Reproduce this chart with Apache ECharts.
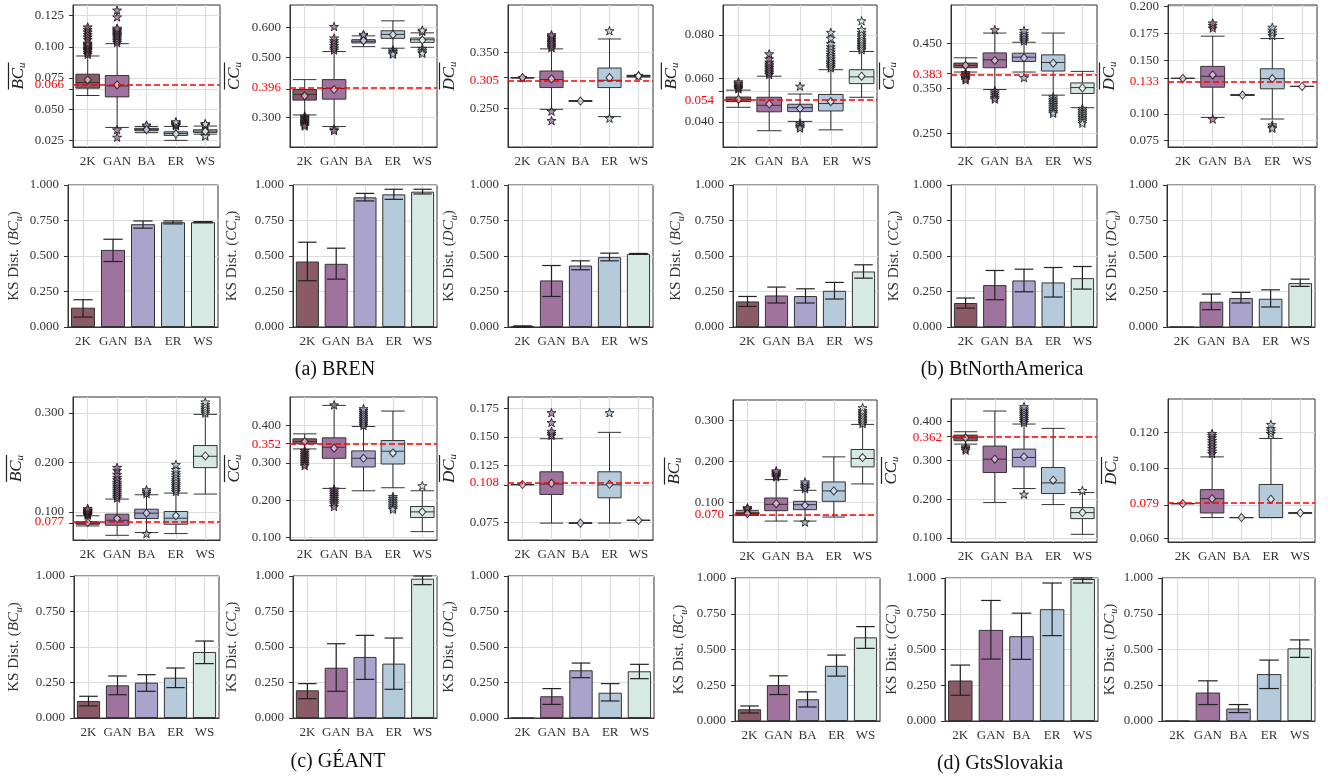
<!DOCTYPE html>
<html lang="en">
<head>
<meta charset="UTF-8">
<title>Centrality distributions and KS distance</title>
<script src="https://cdn.jsdelivr.net/npm/echarts@6/dist/echarts.min.js"></script>
<style>html,body{margin:0;background:#fff}</style>
</head>
<body>
<div id="main" style="width:1328px;height:779px"></div>
<script>
var cats = ['2K', 'GAN', 'BA', 'ER', 'WS'];
var fills = ['#8b5a67', '#a0739e', '#aaa3cb', '#b5cadb', '#d7e9e3'];
var meanFills = ['#e3bccb', '#e6c8e6', '#dcd8f4', '#e2edf5', '#ffffff'];

// ---- (a) BREN ----
var brenBcBox = [[0.061, 0.0669, 0.0714, 0.0781, 0.0927], [0.0354, 0.0599, 0.0687, 0.077, 0.1026], [0.0312, 0.0327, 0.0336, 0.0347, 0.0362], [0.025, 0.029, 0.0306, 0.0319, 0.0362], [0.030, 0.0314, 0.0325, 0.0335, 0.0365]];
var brenBcMean = [0.0735, 0.0695, 0.0336, 0.0303, 0.0322];
var brenBcOut = [[0.094, 0.0955, 0.097, 0.098, 0.099, 0.1, 0.101, 0.102, 0.103, 0.106, 0.108, 0.11, 0.112, 0.114, 0.116],
  [0.1035, 0.105, 0.1065, 0.108, 0.109, 0.11, 0.111, 0.112, 0.113, 0.114, 0.115, 0.124, 0.1295, 0.0335, 0.0275],
  [0.0368, 0.0373], [0.0368, 0.0375, 0.038, 0.0386, 0.0393, 0.04], [0.0372, 0.0378, 0.0385, 0.0292, 0.0285]];
var brenBcRef = 0.066;
var brenBcRange = [0.0197, 0.1336];
var brenBcTicks = [0.025, 0.05, 0.075, 0.1, 0.125];

var brenCcBox = [[0.3088, 0.3582, 0.377, 0.3934, 0.4264], [0.2703, 0.3615, 0.3967, 0.4264, 0.5198], [0.536, 0.5484, 0.554, 0.5593, 0.572], [0.531, 0.5637, 0.577, 0.589, 0.622], [0.534, 0.5505, 0.559, 0.5648, 0.582]];
var brenCcMean = [0.3725, 0.3934, 0.556, 0.5758, 0.558];
var brenCcOut = [[0.305, 0.3, 0.296, 0.292, 0.288, 0.284, 0.28, 0.276, 0.272],
  [0.525, 0.532, 0.54, 0.548, 0.556, 0.565, 0.603, 0.262, 0.257],
  [0.574, 0.577], [0.525, 0.52, 0.515, 0.511], [0.587, 0.591, 0.53, 0.524, 0.518, 0.514]];
var brenCcRef = 0.396;
var brenCcRange = [0.2022, 0.6747];
var brenCcTicks = [0.3, 0.5, 0.6];

var brenDcBox = [[0.3045, 0.3045, 0.3045, 0.3045, 0.3045], [0.2482, 0.287, 0.3012, 0.3165, 0.3559], [0.2625, 0.2625, 0.263, 0.2635, 0.2635], [0.2353, 0.287, 0.3, 0.3218, 0.3735], [0.3059, 0.3065, 0.3075, 0.3085, 0.3088]];
var brenDcMean = [0.3045, 0.3024, 0.263, 0.3047, 0.3076];
var brenDcOut = [[0.3045], [0.358, 0.361, 0.364, 0.367, 0.37, 0.373, 0.376, 0.379, 0.381, 0.245, 0.2282], [], [0.3882, 0.2324], [0.3085]];
var brenDcRef = 0.305;
var brenDcRange = [0.1812, 0.434];
var brenDcTicks = [0.25, 0.35];

var brenBcKs = [0.136, 0.543, 0.724, 0.738, 0.738];
var brenBcKsLo = [0.070, 0.461, 0.696, 0.726, 0.734];
var brenBcKsHi = [0.192, 0.618, 0.747, 0.747, 0.742];
var brenCcKs = [0.461, 0.445, 0.913, 0.934, 0.953];
var brenCcKsLo = [0.326, 0.337, 0.888, 0.899, 0.937];
var brenCcKsHi = [0.597, 0.555, 0.941, 0.970, 0.970];
var brenDcKs = [0.003, 0.328, 0.433, 0.492, 0.515];
var brenDcKsLo = [0.0, 0.215, 0.403, 0.466, 0.512];
var brenDcKsHi = [0.008, 0.433, 0.466, 0.520, 0.518];

// ---- (b) BtNorthAmerica ----
var btnaBcBox = [[0.0467, 0.0493, 0.0503, 0.0514, 0.0546], [0.0359, 0.0446, 0.0476, 0.0513, 0.061], [0.0402, 0.0447, 0.0465, 0.0481, 0.0528], [0.0363, 0.045, 0.0484, 0.0526, 0.064], [0.0513, 0.0576, 0.0607, 0.064, 0.0724]];
var btnaBcMean = [0.0503, 0.0482, 0.0462, 0.0493, 0.061];
var btnaBcOut = [[0.0552, 0.0558, 0.0564, 0.057, 0.0576, 0.0584],
  [0.0618, 0.0626, 0.0634, 0.0642, 0.065, 0.0658, 0.0666, 0.0675, 0.069, 0.0713],
  [0.0564, 0.0394, 0.0385, 0.0378, 0.0371],
  [0.0648, 0.0656, 0.0664, 0.0672, 0.068, 0.069, 0.07, 0.071, 0.0722, 0.0734, 0.0746, 0.076, 0.0785, 0.0812],
  [0.0732, 0.074, 0.0748, 0.0756, 0.0764, 0.0772, 0.078, 0.079, 0.08, 0.0812, 0.0825, 0.0865]];
var btnaBcRef = 0.054;
var btnaBcRange = [0.0284, 0.0938];
var btnaBcTicks = [0.04, 0.06, 0.08];

var btnaCcBox = [[0.3865, 0.3961, 0.4013, 0.4065, 0.4183], [0.3474, 0.3961, 0.4138, 0.4293, 0.4736], [0.3865, 0.4101, 0.4197, 0.4286, 0.453], [0.3349, 0.3887, 0.4079, 0.4249, 0.4736], [0.3068, 0.3386, 0.3518, 0.3622, 0.388]];
var btnaCcMean = [0.4013, 0.4124, 0.4183, 0.4064, 0.351];
var btnaCcOut = [[0.385, 0.381, 0.378, 0.375, 0.372, 0.369],
  [0.481, 0.345, 0.34, 0.335, 0.33, 0.326],
  [0.456, 0.46, 0.464, 0.468, 0.473, 0.479, 0.374],
  [0.331, 0.326, 0.322, 0.318, 0.314, 0.31, 0.306, 0.302, 0.298, 0.2943],
  [0.3053, 0.301, 0.297, 0.293, 0.289, 0.285, 0.281, 0.277, 0.2721]];
var btnaCcRef = 0.383;
var btnaCcRange = [0.219, 0.5363];
var btnaCcTicks = [0.25, 0.35, 0.45];

var btnaDcBox = [[0.133, 0.133, 0.133, 0.133, 0.133], [0.0966, 0.1248, 0.135, 0.1442, 0.1724], [0.1175, 0.1175, 0.1175, 0.1175, 0.1175], [0.0951, 0.1233, 0.1328, 0.142, 0.1702], [0.1255, 0.1255, 0.1255, 0.1255, 0.1255]];
var btnaDcMean = [0.133, 0.1362, 0.1175, 0.1328, 0.1255];
var btnaDcOut = [[], [0.18, 0.1825, 0.1847, 0.0951], [], [0.173, 0.1755, 0.178, 0.1807, 0.0896, 0.0875, 0.0865], []];
var btnaDcRef = 0.133;
var btnaDcRange = [0.069, 0.2015];
var btnaDcTicks = [0.075, 0.1, 0.15, 0.175, 0.2];

var btnaBcKs = [0.180, 0.222, 0.218, 0.255, 0.391];
var btnaBcKsLo = [0.145, 0.169, 0.169, 0.197, 0.344];
var btnaBcKsHi = [0.215, 0.281, 0.269, 0.314, 0.438];
var btnaCcKs = [0.169, 0.295, 0.328, 0.314, 0.344];
var btnaCcKsLo = [0.133, 0.192, 0.248, 0.211, 0.267];
var btnaCcKsHi = [0.204, 0.398, 0.407, 0.419, 0.426];
var btnaDcKs = [0.0, 0.178, 0.204, 0.199, 0.309];
var btnaDcKsLo = [0.0, 0.122, 0.169, 0.141, 0.286];
var btnaDcKsHi = [0.0, 0.232, 0.244, 0.262, 0.337];

// ---- (c) GEANT ----
var geantBcBox = [[0.0715, 0.0749, 0.0772, 0.0797, 0.092], [0.0525, 0.0729, 0.083, 0.0953, 0.1258], [0.058, 0.0864, 0.0973, 0.1054, 0.1346], [0.056, 0.0749, 0.0871, 0.1007, 0.138], [0.136, 0.1895, 0.2125, 0.2342, 0.2973]];
var geantBcMean = [0.0783, 0.0864, 0.0973, 0.0919, 0.2132];
var geantBcOut = [[0.0935, 0.095, 0.0965, 0.098, 0.0995, 0.101, 0.1025, 0.104, 0.1068],
  [0.128, 0.132, 0.136, 0.14, 0.144, 0.148, 0.152, 0.156, 0.16, 0.165, 0.17, 0.176, 0.184, 0.19],
  [0.137, 0.141, 0.1447, 0.056],
  [0.141, 0.145, 0.149, 0.153, 0.157, 0.161, 0.165, 0.17, 0.175, 0.18, 0.186, 0.1956],
  [0.3, 0.304, 0.308, 0.312, 0.317, 0.3224]];
var geantBcRef = 0.077;
var geantBcRange = [0.043, 0.3325];
var geantBcTicks = [0.1, 0.2, 0.3];

var geantCcBox = [[0.3373, 0.3508, 0.357, 0.3642, 0.3776], [0.2317, 0.3123, 0.3418, 0.3669, 0.4537], [0.2254, 0.289, 0.3123, 0.332, 0.3973], [0.2335, 0.297, 0.3311, 0.3597, 0.4385], [0.1162, 0.1538, 0.169, 0.1833, 0.2254]];
var geantCcMean = [0.357, 0.3391, 0.3123, 0.3266, 0.169];
var geantCcOut = [[0.333, 0.328, 0.323, 0.318, 0.313, 0.308, 0.303, 0.298, 0.2926],
  [0.455, 0.23, 0.225, 0.22, 0.215, 0.21, 0.205, 0.2, 0.195, 0.19, 0.1833],
  [0.4, 0.405, 0.41, 0.415, 0.42, 0.425, 0.43, 0.435, 0.44, 0.4448],
  [0.21, 0.205, 0.2, 0.195, 0.19, 0.185, 0.18, 0.176],
  [0.2389]];
var geantCcRef = 0.352;
var geantCcRange = [0.0938, 0.4761];
var geantCcTicks = [0.1, 0.2, 0.3, 0.4];

var geantDcBox = [[0.1082, 0.1082, 0.1082, 0.1082, 0.1082], [0.0744, 0.0996, 0.1087, 0.1194, 0.1484], [0.0744, 0.0744, 0.0744, 0.0744, 0.0744], [0.0744, 0.0966, 0.108, 0.1194, 0.154], [0.0768, 0.0768, 0.0768, 0.0768, 0.0768]];
var geantDcMean = [0.1082, 0.1093, 0.0744, 0.1084, 0.0768];
var geantDcOut = [[], [0.1513, 0.153, 0.1549, 0.1626, 0.1712], [], [0.1712], []];
var geantDcRef = 0.108;
var geantDcRange = [0.0596, 0.185];
var geantDcTicks = [0.075, 0.125, 0.15, 0.175];

var geantBcKs = [0.120, 0.230, 0.249, 0.284, 0.465];
var geantBcKsLo = [0.085, 0.164, 0.188, 0.214, 0.383];
var geantBcKsHi = [0.153, 0.296, 0.305, 0.352, 0.542];
var geantCcKs = [0.195, 0.354, 0.430, 0.383, 0.981];
var geantCcKsLo = [0.136, 0.188, 0.272, 0.202, 0.939];
var geantCcKsHi = [0.242, 0.523, 0.582, 0.563, 1.0];
var geantDcKs = [0.0, 0.153, 0.336, 0.178, 0.329];
var geantDcKsLo = [0.0, 0.096, 0.284, 0.120, 0.277];
var geantDcKsHi = [0.0, 0.207, 0.387, 0.242, 0.378];

// ---- (d) GtsSlovakia ----
var gtsBcBox = [[0.069, 0.0706, 0.0735, 0.0771, 0.0812], [0.0551, 0.0804, 0.0959, 0.1114, 0.1563], [0.0551, 0.0829, 0.0951, 0.1033, 0.1302], [0.0649, 0.1033, 0.1286, 0.1506, 0.2118], [0.1457, 0.1873, 0.2078, 0.2298, 0.291]];
var gtsBcMean = [0.073, 0.0976, 0.0935, 0.1286, 0.2102];
var gtsBcOut = [[0.083, 0.0855, 0.0878],
  [0.1629, 0.166, 0.169, 0.172, 0.1745, 0.1776],
  [0.1343, 0.138, 0.142, 0.146, 0.1506, 0.0527],
  [],
  [0.293, 0.297, 0.301, 0.305, 0.309, 0.313, 0.317, 0.321, 0.325, 0.3318]];
var gtsBcRef = 0.070;
var gtsBcRange = [0.004, 0.3506];
var gtsBcTicks = [0.1, 0.2, 0.3];

var gtsCcBox = [[0.3422, 0.3509, 0.3586, 0.3655, 0.3741], [0.1914, 0.269, 0.3034, 0.3371, 0.4276], [0.2276, 0.2836, 0.3078, 0.3293, 0.394], [0.1862, 0.2147, 0.2422, 0.2819, 0.3828], [0.1095, 0.15, 0.1655, 0.1784, 0.2172]];
var gtsCcMean = [0.3586, 0.3034, 0.3095, 0.2491, 0.1655];
var gtsCcOut = [[0.3353, 0.331, 0.3267], [],
  [0.398, 0.403, 0.408, 0.413, 0.418, 0.423, 0.428, 0.433, 0.4388, 0.2129], [], [0.2224]];
var gtsCcRef = 0.362;
var gtsCcRange = [0.0897, 0.4586];
var gtsCcTicks = [0.1, 0.2, 0.3, 0.4];

var gtsDcBox = [[0.0798, 0.0798, 0.0798, 0.0798, 0.0798], [0.0719, 0.0745, 0.0826, 0.0877, 0.1062], [0.0719, 0.0719, 0.0719, 0.0719, 0.0719], [0.0719, 0.0719, 0.0719, 0.0906, 0.1166], [0.0745, 0.0745, 0.0745, 0.0745, 0.0745]];
var gtsDcMean = [0.0798, 0.0826, 0.0719, 0.0823, 0.0745];
var gtsDcOut = [[], [0.1081, 0.1095, 0.111, 0.1125, 0.114, 0.1155, 0.117, 0.1183, 0.1194], [], [0.1194, 0.1208, 0.1222, 0.1245], []];
var gtsDcRef = 0.079;
var gtsDcRange = [0.0581, 0.1389];
var gtsDcTicks = [0.06, 0.1, 0.12];

var gtsBcKs = [0.082, 0.251, 0.152, 0.386, 0.585];
var gtsBcKsLo = [0.056, 0.185, 0.098, 0.314, 0.508];
var gtsBcKsHi = [0.105, 0.316, 0.204, 0.461, 0.660];
var gtsCcKs = [0.283, 0.637, 0.593, 0.782, 0.993];
var gtsCcKsLo = [0.180, 0.433, 0.431, 0.597, 0.965];
var gtsCcKsHi = [0.391, 0.843, 0.754, 0.965, 1.0];
var gtsDcKs = [0.0, 0.199, 0.087, 0.328, 0.508];
var gtsDcKsLo = [0.0, 0.115, 0.059, 0.227, 0.445];
var gtsDcKsHi = [0.0, 0.281, 0.115, 0.426, 0.567];

var captions = ['(a) BREN', '(b) BtNorthAmerica', '(c) GÉANT', '(d) GtsSlovakia'];

// panel lists, in plotting order (row by row, left to right)
var boxPanels = [
  [brenBcBox, brenBcMean, brenBcOut, brenBcRef, brenBcRange, brenBcTicks, 'BC'],
  [brenCcBox, brenCcMean, brenCcOut, brenCcRef, brenCcRange, brenCcTicks, 'CC'],
  [brenDcBox, brenDcMean, brenDcOut, brenDcRef, brenDcRange, brenDcTicks, 'DC'],
  [btnaBcBox, btnaBcMean, btnaBcOut, btnaBcRef, btnaBcRange, btnaBcTicks, 'BC'],
  [btnaCcBox, btnaCcMean, btnaCcOut, btnaCcRef, btnaCcRange, btnaCcTicks, 'CC'],
  [btnaDcBox, btnaDcMean, btnaDcOut, btnaDcRef, btnaDcRange, btnaDcTicks, 'DC'],
  [geantBcBox, geantBcMean, geantBcOut, geantBcRef, geantBcRange, geantBcTicks, 'BC'],
  [geantCcBox, geantCcMean, geantCcOut, geantCcRef, geantCcRange, geantCcTicks, 'CC'],
  [geantDcBox, geantDcMean, geantDcOut, geantDcRef, geantDcRange, geantDcTicks, 'DC'],
  [gtsBcBox, gtsBcMean, gtsBcOut, gtsBcRef, gtsBcRange, gtsBcTicks, 'BC'],
  [gtsCcBox, gtsCcMean, gtsCcOut, gtsCcRef, gtsCcRange, gtsCcTicks, 'CC'],
  [gtsDcBox, gtsDcMean, gtsDcOut, gtsDcRef, gtsDcRange, gtsDcTicks, 'DC']
];
var barPanels = [
  [brenBcKs, brenBcKsLo, brenBcKsHi, 'BC'], [brenCcKs, brenCcKsLo, brenCcKsHi, 'CC'], [brenDcKs, brenDcKsLo, brenDcKsHi, 'DC'],
  [btnaBcKs, btnaBcKsLo, btnaBcKsHi, 'BC'], [btnaCcKs, btnaCcKsLo, btnaCcKsHi, 'CC'], [btnaDcKs, btnaDcKsLo, btnaDcKsHi, 'DC'],
  [geantBcKs, geantBcKsLo, geantBcKsHi, 'BC'], [geantCcKs, geantCcKsLo, geantCcKsHi, 'CC'], [geantDcKs, geantDcKsLo, geantDcKsHi, 'DC'],
  [gtsBcKs, gtsBcKsLo, gtsBcKsHi, 'BC'], [gtsCcKs, gtsCcKsLo, gtsCcKsHi, 'CC'], [gtsDcKs, gtsDcKsLo, gtsDcKsHi, 'DC']
];

// layout: plot rectangles [left, top, right, bottom] and axis-name centres
var boxRects = [
  [73, 5, 220, 147], [290, 5, 437, 147], [508, 5, 653, 147], [723, 5, 877, 147], [951, 5, 1097, 147], [1168, 5, 1317, 147],
  [73, 397, 220, 540], [290, 397, 437, 540], [508, 397, 653, 540], [733, 400, 877, 542], [951, 399, 1097, 542], [1168, 399, 1315, 542]
];
var barRects = [
  [68, 185, 218, 327], [293, 185, 437, 327], [508, 185, 653, 327], [733, 185, 878, 327], [951, 185, 1097, 327], [1167, 185, 1315, 327],
  [74, 576, 219, 718], [293, 576, 437, 718], [508, 576, 654, 718], [735, 578, 880, 721], [945, 578, 1098, 721], [1162, 578, 1315, 721]
];
var boxNameX = [19, 235, 450, 675, 890, 1110, 17, 235, 450, 675, 892, 1112];
var barNameX = [15, 233, 450, 677, 895, 1113, 15, 233, 450, 680, 893, 1113];
var captionPos = [[335, 370], [1002, 370], [338, 762], [1000, 764]];

var FONT = '"Liberation Serif", "DejaVu Serif", serif';
var STAR = 'path://M0,-10L2.35,-3.24L9.51,-3.09L3.8,1.24L5.88,8.09L0,4L-5.88,8.09L-3.8,1.24L-9.51,-3.09L-2.35,-3.24Z';
var grids = [], xAxes = [], yAxes = [], series = [];

function fmt3(v) { return Number(v).toFixed(3); }

function addPanel(rect, nameX, yOpt) {
  var gi = grids.length;
  grids.push({
    left: rect[0], top: rect[1], width: rect[2] - rect[0], height: rect[3] - rect[1],
    show: true, borderColor: '#333', borderWidth: 1
  });
  xAxes.push({
    gridIndex: gi, type: 'category', data: cats,
    axisLine: { lineStyle: { color: '#333' } },
    axisTick: { alignWithLabel: true, length: 4, lineStyle: { color: '#333' } },
    axisLabel: { interval: 0, margin: 8, fontFamily: FONT, fontSize: 13, color: '#333' },
    splitLine: { show: true, alignWithLabel: true, interval: 0, lineStyle: { color: '#dcdcdc', width: 1.2 } }
  });
  var y = {
    gridIndex: gi, type: 'value',
    nameLocation: 'middle', nameRotate: 90, nameGap: rect[0] - nameX - 9,
    axisLine: { show: true, lineStyle: { color: '#333' } },
    axisTick: { show: true, length: 4, lineStyle: { color: '#333' } },
    splitLine: { show: true, lineStyle: { color: '#dcdcdc', width: 1.2 } },
    axisLabel: { margin: 9, fontFamily: FONT, fontSize: 13, color: '#333', hideOverlap: false, formatter: fmt3 }
  };
  for (var k in yOpt) y[k] = yOpt[k];
  yAxes.push(y);
  return gi;
}

// box plot panels
boxPanels.forEach(function (p, i) {
  var box = p[0], mean = p[1], out = p[2], ref = p[3], range = p[4], ticks = p[5], m = p[6];
  var allTicks = ticks.concat([ref]);
  var gi = addPanel(boxRects[i], boxNameX[i], {
    min: range[0], max: range[1],
    name: '{o| }\n{m|' + m + '}{s|u}',
    nameTextStyle: {
      rich: {
        o: { fontSize: 4, lineHeight: 3, height: 1.2, width: 27, backgroundColor: '#222' },
        m: { fontFamily: FONT, fontStyle: 'italic', fontSize: 17, color: '#222', lineHeight: 18, verticalAlign: 'middle' },
        s: { fontFamily: FONT, fontStyle: 'italic', fontSize: 11, color: '#222', lineHeight: 18, verticalAlign: 'bottom' }
      }
    },
    axisLabel: { margin: 9, fontFamily: FONT, fontSize: 13, color: '#333', hideOverlap: false, customValues: ticks, formatter: fmt3 },
    axisTick: { show: true, length: 4, lineStyle: { color: '#333' }, customValues: allTicks },
    splitLine: { show: true, lineStyle: { color: '#dcdcdc', width: 1.2 }, customValues: allTicks }
  });
  series.push({
    type: 'boxplot', xAxisIndex: gi, yAxisIndex: gi, z: 3,
    boxWidth: ['80%', '80%'],
    silent: true,
    data: box.map(function (v, k) {
      return { value: v, itemStyle: { color: fills[k], borderColor: '#333', borderWidth: 1 } };
    }),
    markLine: {
      silent: true, symbol: 'none', z: 6,
      lineStyle: { color: '#ff0000', type: [6, 3], width: 1.5 },
      label: {
        show: true, position: 'start', distance: 9, formatter: fmt3(ref),
        color: '#ff0000', fontFamily: FONT, fontSize: 13
      },
      data: [{ yAxis: ref }]
    }
  });
  var outData = [];
  out.forEach(function (vals, k) {
    vals.forEach(function (v) {
      outData.push({ value: [k, v], itemStyle: { color: fills[k] } });
    });
  });
  series.push({
    type: 'scatter', xAxisIndex: gi, yAxisIndex: gi, z: 4, silent: true,
    symbol: STAR, symbolKeepAspect: true, symbolSize: 9,
    itemStyle: { borderColor: '#111', borderWidth: 1 },
    data: outData
  });
  series.push({
    type: 'scatter', xAxisIndex: gi, yAxisIndex: gi, z: 5, silent: true,
    symbol: 'diamond', symbolSize: [7, 8],
    itemStyle: { borderColor: '#111', borderWidth: 1 },
    data: mean.map(function (v, k) { return { value: [k, v], itemStyle: { color: meanFills[k] } }; })
  });
});

// KS distance bar panels
barPanels.forEach(function (p, i) {
  var vals = p[0], lo = p[1], hi = p[2], m = p[3];
  var gi = addPanel(barRects[i], barNameX[i], {
    min: 0, max: 1, interval: 0.25,
    name: '{n|KS Dist. (}{i|' + m + '}{s|u}{n|)}',
    nameTextStyle: {
      rich: {
        n: { fontFamily: FONT, fontSize: 15, color: '#333', lineHeight: 20, verticalAlign: 'middle' },
        i: { fontFamily: FONT, fontStyle: 'italic', fontSize: 15, color: '#333', lineHeight: 20, verticalAlign: 'middle' },
        s: { fontFamily: FONT, fontStyle: 'italic', fontSize: 10, color: '#333', lineHeight: 20, verticalAlign: 'bottom' }
      }
    }
  });
  series.push({
    type: 'bar', xAxisIndex: gi, yAxisIndex: gi, z: 3, silent: true,
    barWidth: '80%',
    data: vals.map(function (v, k) {
      return { value: v, itemStyle: { color: fills[k], borderColor: '#333', borderWidth: 1 } };
    })
  });
  series.push({
    type: 'custom', xAxisIndex: gi, yAxisIndex: gi, z: 5, silent: true,
    encode: { x: 0, y: [1, 2] },
    data: lo.map(function (v, k) { return [k, v, hi[k]]; }),
    renderItem: function (params, api) {
      var x = api.value(0);
      if (api.value(2) <= 0) return null;
      var a = api.coord([x, api.value(1)]);
      var b = api.coord([x, api.value(2)]);
      var half = api.size([1, 0])[0] * 0.32;
      var st = { stroke: '#222', lineWidth: 1.2 };
      return {
        type: 'group',
        children: [
          { type: 'line', shape: { x1: a[0], y1: a[1], x2: b[0], y2: b[1] }, style: st },
          { type: 'line', shape: { x1: a[0] - half, y1: a[1], x2: a[0] + half, y2: a[1] }, style: st },
          { type: 'line', shape: { x1: b[0] - half, y1: b[1], x2: b[0] + half, y2: b[1] }, style: st }
        ]
      };
    }
  });
});

var chart = echarts.init(document.getElementById('main'));
chart.setOption({
  animation: false,
  backgroundColor: '#ffffff',
  grid: grids,
  xAxis: xAxes,
  yAxis: yAxes,
  series: series,
  graphic: captions.map(function (t, i) {
    return {
      type: 'text', x: captionPos[i][0], y: captionPos[i][1], silent: true,
      style: {
        text: t, fill: '#111', font: '20px ' + FONT,
        align: 'center', verticalAlign: 'middle', textAlign: 'center', textVerticalAlign: 'middle'
      }
    };
  })
});
</script>
</body>
</html>
